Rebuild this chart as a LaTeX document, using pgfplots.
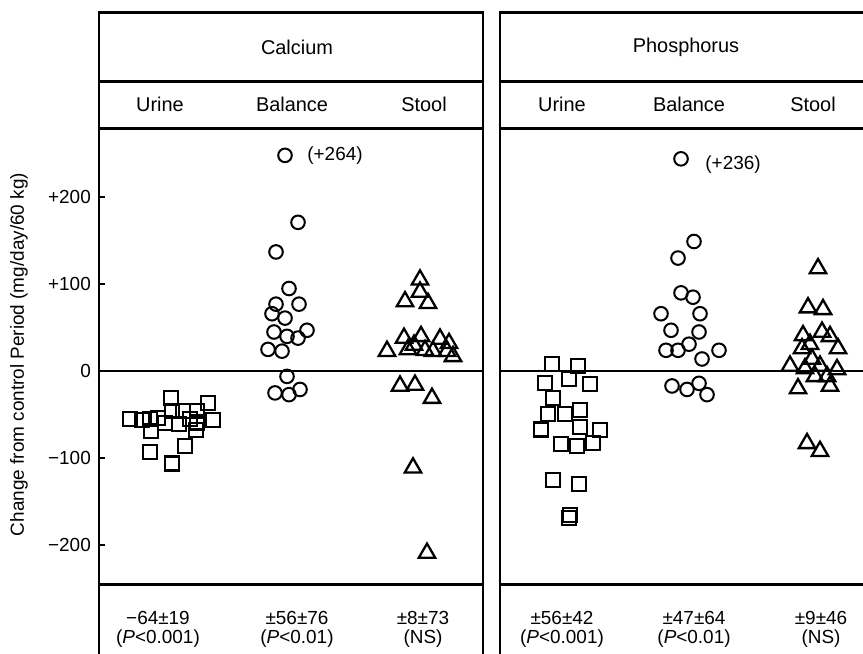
\documentclass[border=0pt]{standalone}
\usepackage{fontspec}
\setmainfont{Liberation Sans}
\usepackage{pgfplots}
\pgfplotsset{compat=1.18}
\newcommand{\fs}{\fontsize{19}{21}\selectfont}
\newcommand{\fh}{\fontsize{20}{22}\selectfont}
\begin{document}
\begin{tikzpicture}[x=1bp,y=1bp]
\path[use as bounding box] (0,0) rectangle (863,654);
\pgfplotsset{
  panel/.style={
    scale only axis, width=384bp, height=456bp,
    ymin=-245, ymax=279,
    anchor=south west,
    axis line style={line width=2.5bp},
    xtick=\empty, clip=false,
    tick style={line width=1.5bp, black},
    major tick length=6bp,
    tick align=inside,
    ytick pos=left,
    ticklabel style={font=\fs},
  },
  sq/.style={only marks, mark=square, mark size=7bp, mark options={line width=2.2bp, draw=black}},
  ci/.style={only marks, mark=o, mark size=6.8bp, mark options={line width=2bp, draw=black}},
  tr/.style={only marks, mark=triangle, mark size=9.5bp, mark options={line width=2.3bp, draw=black}},
}
% ---------------- Calcium ----------------
\begin{axis}[panel, at={(99,80)}, xmin=99, xmax=483,
  ytick={-200,-100,0,100,200},
  yticklabels={−200,−100,0,+100,+200},
  yticklabel style={anchor=east, inner sep=0pt, xshift=-8bp},
  ylabel={Change from control Period (mg/day/60 kg)},
  every axis y label/.style={at={(rel axis cs:-0.2083,0.504)}, rotate=90, anchor=center, font=\fs},
]
\addplot[black, line width=1.5bp, no marks] coordinates {(99,0) (483,0)};
\addplot[sq] coordinates {
(130,-55) (142,-56) (150,-55) (158,-54) (171,-31) (172,-46) (183,-46) (165,-60)
(179,-61) (197,-46) (208,-37) (197,-59) (213,-56) (196,-68) (151,-69) (185,-86)
(150,-93) (172,-106) (190,-55)};
\addplot[ci] coordinates {
(285,248) (298,171) (276,137) (289,95) (299,77) (276,77) (272,66) (285,61)
(274,45) (287,40) (307,47) (298,38) (268,25) (282,23) (287,-6) (275,-25)
(289,-27) (300,-21)};
\addplot[tr] coordinates {
(420,105) (420,91) (405,80) (428,78)
(387,23) (404,38) (421,40) (440,37) (449,32) (453,17) (408,25) (425,24)
(433,23) (447,23) (414,30)
(400,-17) (415,-16) (432,-31) (413,-111) (427,-209)};
\node[font=\fs] at (axis cs:335,248) {(+264)};
% header and footer frame
\draw[line width=2.5bp, line cap=rect] (axis cs:99,412.3) rectangle (axis cs:483,279);
\draw[line width=2.5bp] (axis cs:99,333) -- (axis cs:483,333);
\draw[line width=2.5bp] (axis cs:99,-245) -- (axis cs:99,-345);
\draw[line width=2.5bp] (axis cs:483,-245) -- (axis cs:483,-345);
\node[font=\fh] at (axis cs:297,372.6) {Calcium};
\node[font=\fh] at (axis cs:160,306.6) {Urine};
\node[font=\fh] at (axis cs:292,306.6) {Balance};
\node[font=\fh] at (axis cs:424,306.6) {Stool};
\node[font=\fs] at (axis cs:158,-284) {−64±19};
\node[font=\fs] at (axis cs:158,-307) {(\textit{P}<0.001)};
\node[font=\fs] at (axis cs:297,-284) {±56±76};
\node[font=\fs] at (axis cs:297,-307) {(\textit{P}<0.01)};
\node[font=\fs] at (axis cs:423,-284) {±8±73};
\node[font=\fs] at (axis cs:423,-307) {(NS)};
\end{axis}
% ---------------- Phosphorus ----------------
\begin{axis}[panel, at={(500,80)}, xmin=500, xmax=884, ytick=\empty]
\addplot[black, line width=1.5bp, no marks] coordinates {(500,0) (884,0)};
\addplot[sq] coordinates {
(552,8) (578,6) (545,-14) (569,-9) (590,-15) (553,-31) (548,-49) (565,-49)
(580,-45) (541,-67) (580,-64) (600,-68) (561,-84) (577,-86) (593,-83)
(553,-125) (579,-130) (570,-165) (569,-169)};
\addplot[ci] coordinates {
(681,244) (694,149) (678,130) (681,90) (693,85) (661,66) (700,66) (671,47)
(699,45) (689,31) (666,24) (678,24) (719,24) (702,14) (672,-17) (687,-21)
(699,-14) (707,-27)};
\addplot[tr] coordinates {
(818,118) (808,73) (823,71) (822,45) (803,41) (830,40) (802,26) (810,31)
(838,26) (790,6) (812,14) (820,6) (805,3) (837,2) (815,-6) (827,-6)
(798,-20) (830,-17) (807,-83) (820,-92)};
\node[font=\fs] at (axis cs:733,237.6) {(+236)};
\draw[line width=2.5bp, line cap=rect] (axis cs:500,412.3) rectangle (axis cs:884,279);
\draw[line width=2.5bp] (axis cs:500,333) -- (axis cs:884,333);
\draw[line width=2.5bp] (axis cs:500,-245) -- (axis cs:500,-345);
\draw[line width=2.5bp] (axis cs:884,-245) -- (axis cs:884,-345);
\node[font=\fh] at (axis cs:686,372.6) {Phosphorus};
\node[font=\fh] at (axis cs:562,306.6) {Urine};
\node[font=\fh] at (axis cs:689,306.6) {Balance};
\node[font=\fh] at (axis cs:813,306.6) {Stool};
\node[font=\fs] at (axis cs:562,-284) {±56±42};
\node[font=\fs] at (axis cs:562,-307) {(\textit{P}<0.001)};
\node[font=\fs] at (axis cs:694,-284) {±47±64};
\node[font=\fs] at (axis cs:694,-307) {(\textit{P}<0.01)};
\node[font=\fs] at (axis cs:821,-284) {±9±46};
\node[font=\fs] at (axis cs:821,-307) {(NS)};
\end{axis}
\end{tikzpicture}
\end{document}
